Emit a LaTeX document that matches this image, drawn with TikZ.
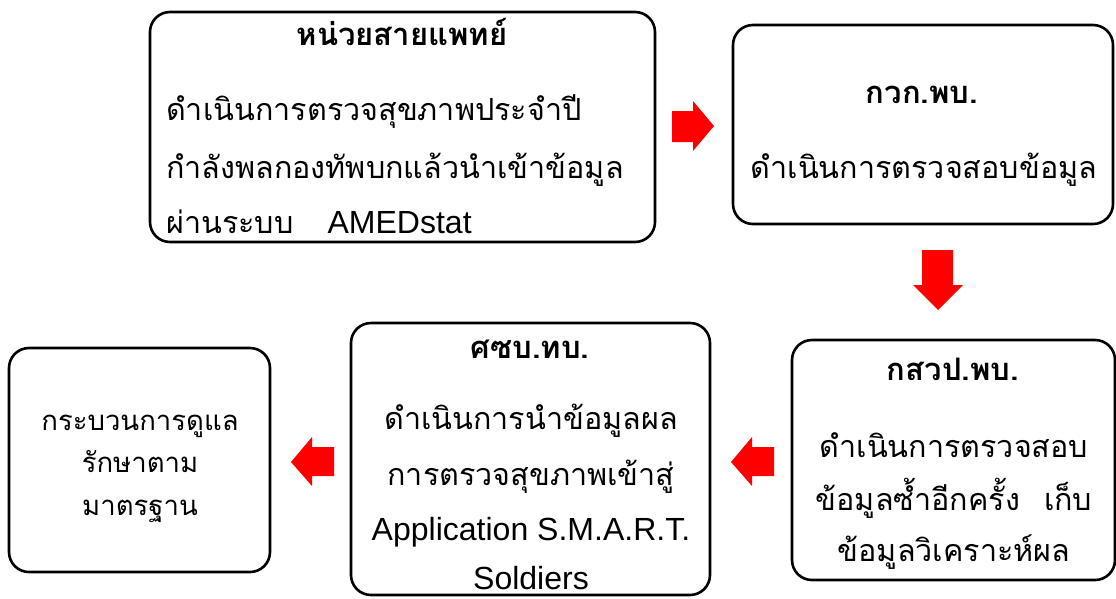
\documentclass[tikz,border=0pt]{standalone}
\usepackage{fontspec}
\setmainfont[Script=Thai]{Loma}
\newfontfamily\latinfont[Scale=1.05]{Liberation Sans}
\newcommand{\lat}[1]{{\latinfont #1}}
\begin{document}
\begin{tikzpicture}[x=1pt,y=-1pt,
  box/.style={draw=black, line width=2.6pt, rounded corners=20pt},
  txt/.style={anchor=base, inner sep=0pt, font=\fontsize{30.5}{34}\selectfont},
  stxt/.style={anchor=base, inner sep=0pt, font=\fontsize{27.5}{31}\selectfont},
  ttl/.style={anchor=base, inner sep=0pt, font=\fontsize{31}{35}\selectfont\bfseries},
  blk/.style={fill=red, draw=none}]
\useasboundingbox (0,0) rectangle (1116,598);
% boxes
\draw[box] (150,12) rectangle (655,242);
\draw[box] (733,25) rectangle (1113,224);
\draw[box] (792,340) rectangle (1115,580);
\draw[box] (351,323) rectangle (710,595);
\draw[box] (9,348) rectangle (270,572);
% box 1
\node[ttl] (t1) at (402,45) {หน่วยสายแพทย์};
\node[txt,anchor=base west] (a1) at (166,120) {ดำเนินการตรวจสุขภาพประจำปี};
\node[txt,anchor=base west] (a2) at (166,178) {กำลังพลกองทัพบกแล้วนำเข้าข้อมูล};
\node[txt,anchor=base west] (a3) at (166,233) {ผ่านระบบ\hspace{34pt}\lat{AMEDstat}};
% box 2
\node[ttl] (t2) at (922,103) {กวก.พบ.};
\node[txt] (b1) at (924,178) {ดำเนินการตรวจสอบข้อมูล};
% box 3
\node[ttl] (t3) at (953,380) {กสวป.พบ.};
\node[txt] (c1) at (954,457) {ดำเนินการตรวจสอบ};
\node[txt] (c2) at (954,510) {ข้อมูลซ้ำอีกครั้ง\hspace{24pt}เก็บ};
\node[txt] (c3) at (954,561) {ข้อมูลวิเคราะห์ผล};
% box 4
\node[ttl] (t4) at (530,358) {ศซบ.ทบ.};
\node[txt] (d1) at (531,429) {ดำเนินการนำข้อมูลผล};
\node[txt] (d2) at (531,485) {การตรวจสุขภาพเข้าสู่};
\node[txt] (d3) at (531,540) {\lat{Application S.M.A.R.T.}};
\node[txt] (d4) at (531,589) {\lat{Soldiers}};
% box 5
\node[stxt] (e1) at (140,430) {กระบวนการดูแล};
\node[stxt] (e2) at (140,472) {รักษาตาม};
\node[stxt] (e3) at (140,515) {มาตรฐาน};
% block arrows
\fill[blk] (672,111) -- (693,111) -- (693,101) -- (714,126) -- (693,151) -- (693,142) -- (672,142) -- cycle;
\fill[blk] (922,250) -- (953,250) -- (953,285) -- (963,285) -- (938,310) -- (913,285) -- (922,285) -- cycle;
\fill[blk] (774,447) -- (752,447) -- (752,437) -- (731,462) -- (752,486) -- (752,476) -- (774,476) -- cycle;
\fill[blk] (334,447) -- (312,447) -- (312,437) -- (291,462) -- (312,486) -- (312,476) -- (334,476) -- cycle;
\end{tikzpicture}
\end{document}
